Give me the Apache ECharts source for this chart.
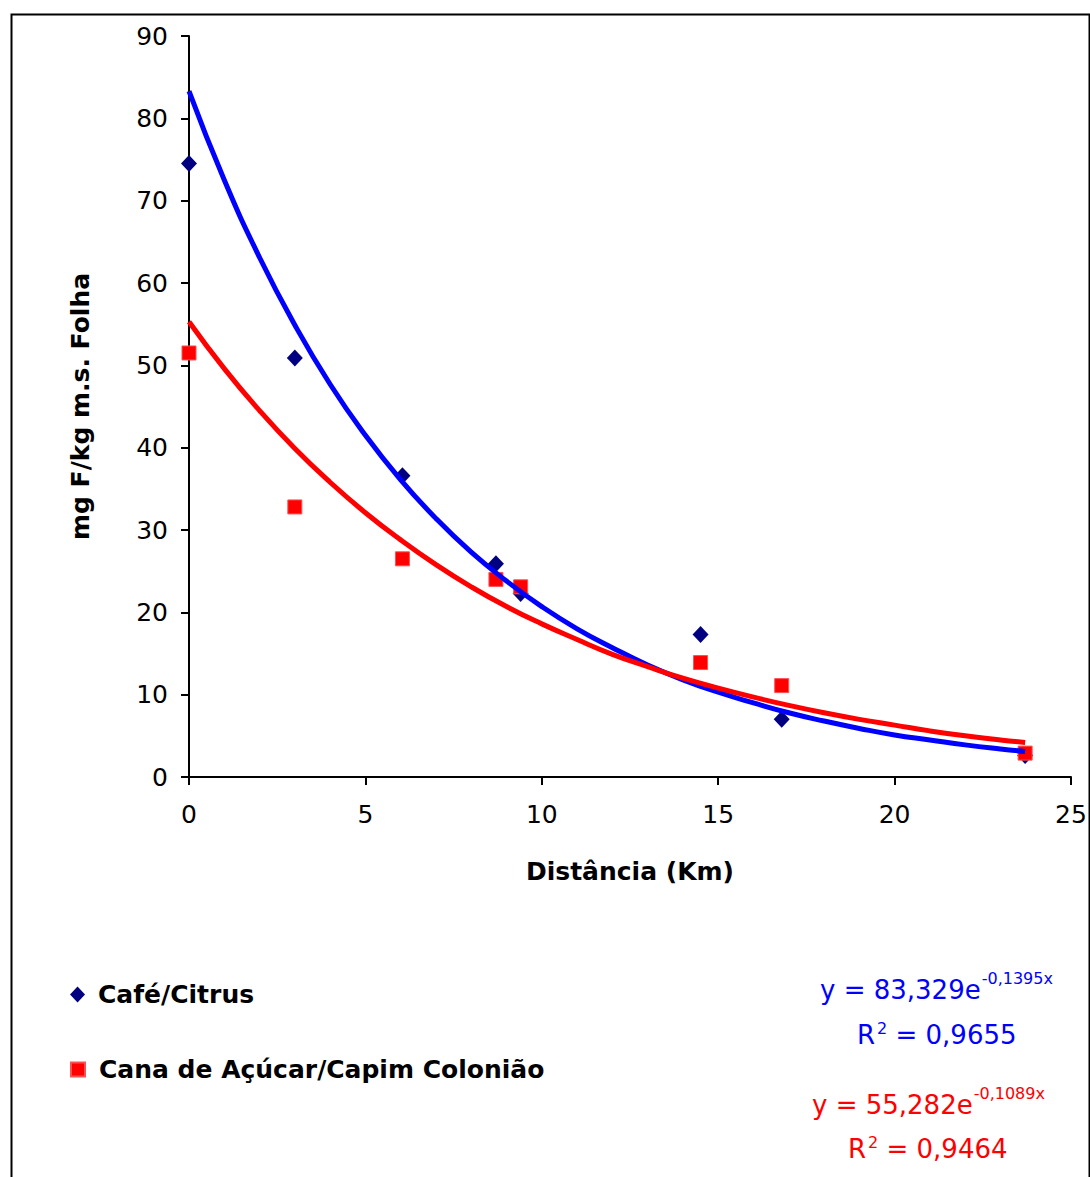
<!DOCTYPE html>
<html>
<head>
<meta charset="utf-8">
<script src="https://cdn.jsdelivr.net/npm/echarts@6/dist/echarts.min.js"></script>
<style>html,body{margin:0;padding:0;background:#fff}#c{width:1090px;height:1177px}</style>
</head>
<body>
<div id="c"></div>
<script>
// Observed points (distance km, mg F/kg)
const cafeX = [0, 3.0, 6.05, 8.7, 9.4, 14.5, 16.8, 23.7];
const cafeY = [74.5, 50.9, 36.6, 25.9, 22.3, 17.3, 7.0, 2.6];
const canaX = [0, 3.0, 6.05, 8.7, 9.4, 14.5, 16.8, 23.7];
const canaY = [51.5, 32.8, 26.5, 24.0, 23.1, 13.9, 11.1, 2.9];
// Trend line readings
const trendX = [0,1,2,3,4,5,6,7,8,9,10,11,12,13,14,15,16,17,18,19,20,21,22,23,23.7];
const trendCafe = [83.3,72.5,63.1,54.9,47.7,41.5,36.1,31.4,27.3,23.8,20.7,18.0,15.7,13.6,11.8,10.3,9.0,7.8,6.8,5.9,5.1,4.5,3.9,3.4,3.1];
const trendCana = [55.3,49.6,44.5,39.9,35.8,32.1,28.8,25.8,23.1,20.7,18.6,16.7,14.9,13.4,12.0,10.8,9.7,8.7,7.8,7.0,6.3,5.6,5.0,4.5,4.2];
const seriesNames = ['Café/Citrus', 'Cana de Açúcar/Capim Colonião'];
const eqCafe = ['y = 83,329e', '-0,1395x', 'R', '2', ' = 0,9655'];
const eqCana = ['y = 55,282e', '-0,1089x', 'R', '2', ' = 0,9464'];

const zip = (a, b) => a.map((v, i) => [v, b[i]]);
const FF = 'DejaVu Sans';
const BASE = 26, SUP = 16;

const mctx = document.createElement('canvas').getContext('2d');
function tw(txt, size) { mctx.font = size + 'px "DejaVu Sans"'; return mctx.measureText(txt).width; }
function txt(x, y, text, size, col) {
  return {type: 'text', x: x, y: y, silent: true,
    style: {text: text, fill: col, fontSize: size, fontFamily: FF, align: 'left', verticalAlign: 'middle',
            textAlign: 'left', textVerticalAlign: 'middle'}};
}
function equation(eq, col, x1, y1, x2, y2) {
  const w0 = tw(eq[0], BASE);
  const wR = tw(eq[2], BASE);
  const w2 = tw(eq[3], SUP);
  return [
    txt(x1, y1, eq[0], BASE, col),
    txt(x1 + w0 + 1, y1 - 12, eq[1], SUP, col),
    txt(x2, y2, eq[2], BASE, col),
    txt(x2 + wR + 2, y2 - 7, eq[3], SUP, col),
    txt(x2 + wR + 2 + w2, y2, eq[4], BASE, col)
  ];
}

const chart = echarts.init(document.getElementById('c'), null, {renderer: 'svg'});
chart.setOption({
  animation: false,
  backgroundColor: '#fff',
  textStyle: {fontFamily: FF},
  grid: {left: 189, right: 19, top: 36, bottom: 400, containLabel: false},
  xAxis: {
    type: 'value', min: 0, max: 25, interval: 5,
    name: 'Distância (Km)', nameLocation: 'middle', nameGap: 82,
    nameTextStyle: {fontSize: 25, fontWeight: 'bold', color: '#000', fontFamily: FF},
    axisLine: {onZero: false, lineStyle: {color: '#000', width: 2}},
    axisTick: {show: true, inside: false, length: 8, lineStyle: {color: '#000', width: 2}},
    axisLabel: {fontSize: 25, color: '#000', fontFamily: FF, margin: 25},
    splitLine: {show: false}
  },
  yAxis: {
    type: 'value', min: 0, max: 90, interval: 10,
    name: 'mg F/kg m.s. Folha', nameLocation: 'middle', nameGap: 96, nameRotate: 90,
    nameTextStyle: {fontSize: 25, fontWeight: 'bold', color: '#000', fontFamily: FF},
    axisLine: {show: true, lineStyle: {color: '#000', width: 2}},
    axisTick: {show: true, inside: false, length: 8, lineStyle: {color: '#000', width: 2}},
    axisLabel: {fontSize: 25, color: '#000', fontFamily: FF, margin: 21},
    splitLine: {show: false}
  },
  legend: [
    {data: [{name: seriesNames[0], icon: 'diamond'}], left: 65, top: 977, itemWidth: 15, itemHeight: 16,
     textStyle: {fontSize: 25, fontWeight: 'bold', color: '#000', fontFamily: FF, padding: [0,0,0,8]}, selectedMode: false},
    {data: [{name: seriesNames[1], icon: 'rect'}], left: 65, top: 1052, itemWidth: 14, itemHeight: 14,
     textStyle: {fontSize: 25, fontWeight: 'bold', color: '#000', fontFamily: FF, padding: [0,0,0,9]}, selectedMode: false}
  ],
  series: [
    {name: seriesNames[0], type: 'scatter', data: zip(cafeX, cafeY), symbol: 'diamond', symbolSize: [16, 17],
     itemStyle: {color: '#000080', opacity: 1}, z: 2},
    {name: seriesNames[1], type: 'scatter', data: zip(canaX, canaY), symbol: 'rect', symbolSize: 14,
     itemStyle: {color: '#ff0000', borderColor: '#ff5050', borderWidth: 1, opacity: 1}, z: 2},
    {name: 'trendCafe', type: 'line', data: zip(trendX, trendCafe), smooth: true, showSymbol: false, symbol: 'none',
     lineStyle: {color: '#0000ff', width: 5}, z: 3},
    {name: 'trendCana', type: 'line', data: zip(trendX, trendCana), smooth: true, showSymbol: false, symbol: 'none',
     lineStyle: {color: '#ff0000', width: 5}, z: 4}
  ],
  graphic: [
    {type: 'rect', left: 9, top: 12, shape: {width: 1078, height: 1180}, style: {fill: 'none', stroke: '#000', lineWidth: 2}, silent: true}
  ].concat(equation(eqCafe, '#0000ff', 820, 990, 857, 1035))
   .concat(equation(eqCana, '#ff0000', 812, 1105, 848, 1149))
});
</script>
</body>
</html>
